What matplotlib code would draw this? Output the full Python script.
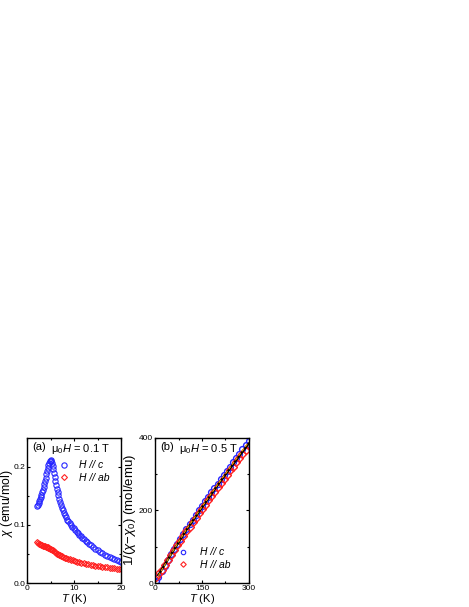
import numpy as np
import matplotlib
matplotlib.use('Agg')
import matplotlib.pyplot as plt

plt.rcParams['font.family'] = 'Liberation Sans'
plt.rcParams['mathtext.fontset'] = 'custom'
plt.rcParams['mathtext.rm'] = 'Liberation Sans'
plt.rcParams['mathtext.it'] = 'Liberation Sans:italic'

# panel (a): chi vs T at 0.1 T
t_c = [2.1, 2.25, 2.4, 2.55, 2.7, 2.85, 3.0, 3.15, 3.3, 3.45, 3.6, 3.75, 3.9, 4.05,
       4.2, 4.35, 4.5, 4.65, 4.8, 4.95, 5.1, 5.25, 5.4, 5.55, 5.7, 5.85, 6.0, 6.15,
       6.3, 6.45, 6.6, 6.8, 7.0, 7.2, 7.4, 7.6, 7.8, 8.0, 8.25, 8.5, 8.75, 9.0, 9.3,
       9.6, 9.9, 10.2, 10.5, 10.8, 11.1, 11.4, 11.7, 12.0, 12.4, 12.8, 13.2, 13.6,
       14.0, 14.5, 15.0, 15.5, 16.0, 16.5, 17.0, 17.5, 18.0, 18.5, 19.0, 19.5, 20.0]
chi_c = [0.132, 0.135, 0.138, 0.141, 0.144, 0.148, 0.152, 0.156, 0.160, 0.165, 0.170,
         0.175, 0.181, 0.187, 0.193, 0.198, 0.203, 0.207, 0.210, 0.211, 0.210, 0.207,
         0.202, 0.196, 0.189, 0.182, 0.175, 0.168, 0.162, 0.156, 0.151, 0.145, 0.139,
         0.134, 0.129, 0.125, 0.121, 0.117, 0.113, 0.109, 0.106, 0.103, 0.100, 0.097,
         0.094, 0.091, 0.088, 0.086, 0.083, 0.081, 0.078, 0.076, 0.073, 0.070, 0.067,
         0.065, 0.062, 0.059, 0.056, 0.054, 0.051, 0.049, 0.047, 0.045, 0.043, 0.041,
         0.040, 0.038, 0.037]

t_ab = [2.1, 2.3, 2.5, 2.7, 2.9, 3.1, 3.3, 3.5, 3.7, 3.9, 4.1, 4.3, 4.5, 4.7, 4.9,
        5.1, 5.3, 5.5, 5.7, 5.9, 6.1, 6.3, 6.5, 6.7, 6.9, 7.1, 7.4, 7.7, 8.0, 8.3,
        8.6, 9.0, 9.4, 9.8, 10.2, 10.6, 11.0, 11.5, 12.0, 12.5, 13.0, 13.5, 14.0,
        14.5, 15.0, 15.5, 16.0, 16.5, 17.0, 17.5, 18.0, 18.5, 19.0, 19.5, 20.0]
chi_ab = [0.071, 0.069, 0.068, 0.067, 0.066, 0.065, 0.064, 0.0635, 0.063, 0.0625,
          0.062, 0.0615, 0.061, 0.060, 0.059, 0.058, 0.057, 0.056, 0.0548, 0.0535,
          0.052, 0.0508, 0.0497, 0.0487, 0.0478, 0.047, 0.0458, 0.0447, 0.0437,
          0.0428, 0.042, 0.041, 0.040, 0.039, 0.038, 0.037, 0.036, 0.035, 0.034,
          0.033, 0.032, 0.031, 0.0305, 0.030, 0.029, 0.0285, 0.028, 0.0275, 0.027,
          0.0265, 0.026, 0.0255, 0.025, 0.0247, 0.0245]

# panel (b): 1/(chi - chi0) vs T at 0.5 T
t_b = [2, 10, 20, 30, 40, 50, 60, 70, 80, 90, 100, 110, 120, 130, 140, 150, 160,
       170, 180, 190, 200, 210, 220, 230, 240, 250, 260, 270, 280, 290, 300]
inv_c = [6, 16, 32, 48, 64, 79, 94, 108, 122, 136, 149, 162, 175, 188, 201, 213,
         225, 238, 250, 262, 274, 286, 298, 309, 321, 333, 345, 356, 368, 380, 391]
inv_ab = [16, 24, 36, 50, 63, 77, 91, 104, 117, 130, 143, 155, 168, 180, 192, 204,
          216, 228, 240, 252, 264, 275, 287, 298, 310, 321, 333, 344, 356, 367, 378]

t_fit = [10, 50, 100, 150, 200, 250, 300]
fit_black = [22, 78, 146, 208, 269, 327, 384]
fit_orange = [20, 79, 148, 210, 271, 330, 388]

blue = '#2626ff'
red = '#ff2020'

fig = plt.figure(figsize=(4.69, 6.07), dpi=100)
ax1 = fig.add_axes([0.0582, 0.0395, 0.2004, 0.2392])
ax2 = fig.add_axes([0.3311, 0.0395, 0.1991, 0.2392])

for ax in (ax1, ax2):
    for s in ax.spines.values():
        s.set_linewidth(1.0)
    ax.tick_params(which='both', direction='in', top=True, right=True,
                   labelsize=6, width=0.8, pad=1.5)
    ax.tick_params(which='major', length=2.5)
    ax.tick_params(which='minor', length=1.5)

ax1.plot(t_c, chi_c, 'o', mfc='none', mec=blue, ms=3.8, mew=0.8)
ax1.plot(t_ab, chi_ab, 'D', mfc='none', mec=red, ms=3.0, mew=0.8)
ax1.set_xlim(0, 20)
ax1.set_ylim(0, 0.25)
ax1.set_xticks([0, 10, 20])
ax1.set_xticks([5, 15], minor=True)
ax1.set_yticks([0, 0.1, 0.2])
ax1.set_yticklabels(['0.0', '0.1', '0.2'])
ax1.set_yticks([0.05, 0.15], minor=True)
ax1.set_xlabel('$T$ (K)', fontsize=8, labelpad=0)
ax1.set_ylabel('$\\chi$ (emu/mol)', fontsize=8.8)
ax1.yaxis.set_label_coords(-0.135, 0.55)
ax1.text(0.05, 0.935, '(a)', transform=ax1.transAxes, fontsize=8, va='center')
ax1.text(0.25, 0.92, '$\\mathregular{\\mu_0}H$ = 0.1 T', transform=ax1.transAxes,
         fontsize=8, va='center')

leg_c = plt.Line2D([], [], ls='none', marker='o', mfc='none', mec=blue,
                   ms=3.8, mew=0.8)
leg_ab = plt.Line2D([], [], ls='none', marker='D', mfc='none', mec=red,
                    ms=3.0, mew=0.8)
ax1.legend([leg_c, leg_ab], ['H // c', 'H // ab'], loc='upper left',
           bbox_to_anchor=(0.33, 0.845), frameon=False,
           prop={'style': 'italic', 'size': 7.5}, handlelength=1.0,
           handletextpad=1.0, labelspacing=0.25, borderaxespad=0.0,
           borderpad=0.0)

ax2.plot(t_b, inv_c, 'o', mfc='none', mec=blue, ms=4.2, mew=1.0)
ax2.plot(t_b, inv_ab, 'D', mfc='none', mec=red, ms=3.6, mew=1.0)
ax2.plot(t_fit, fit_black, '-', color='black', lw=1.6)
ax2.plot(t_fit, fit_orange, '--', color='orange', lw=0.8, dashes=(3, 2))
ax2.set_xlim(0, 300)
ax2.set_ylim(0, 400)
ax2.set_xticks([0, 150, 300])
ax2.set_xticks([75, 225], minor=True)
ax2.set_yticks([0, 200, 400])
ax2.set_yticks([100, 300], minor=True)
ax2.set_xlabel('$T$ (K)', fontsize=8, labelpad=0)
ax2.set_ylabel('1/($\\chi$$-$$\\chi_\\mathregular{0}$) (mol/emu)', fontsize=9.5)
ax2.yaxis.set_label_coords(-0.18, 0.5)
ax2.text(0.05, 0.935, '(b)', transform=ax2.transAxes, fontsize=8, va='center')
ax2.text(0.25, 0.92, '$\\mathregular{\\mu_0}H$ = 0.5 T', transform=ax2.transAxes,
         fontsize=8, va='center')

leg_c2 = plt.Line2D([], [], ls='none', marker='o', mfc='none', mec=blue,
                    ms=3.2, mew=0.8)
leg_ab2 = plt.Line2D([], [], ls='none', marker='D', mfc='none', mec=red,
                     ms=2.8, mew=0.8)
ax2.legend([leg_c2, leg_ab2], ['H // c', 'H // ab'], loc='lower left',
           bbox_to_anchor=(0.24, 0.09), frameon=False,
           prop={'style': 'italic', 'size': 7.5}, handlelength=1.0,
           handletextpad=1.1, labelspacing=0.25, borderaxespad=0.0,
           borderpad=0.0)

fig.savefig('out.png', dpi=100)
